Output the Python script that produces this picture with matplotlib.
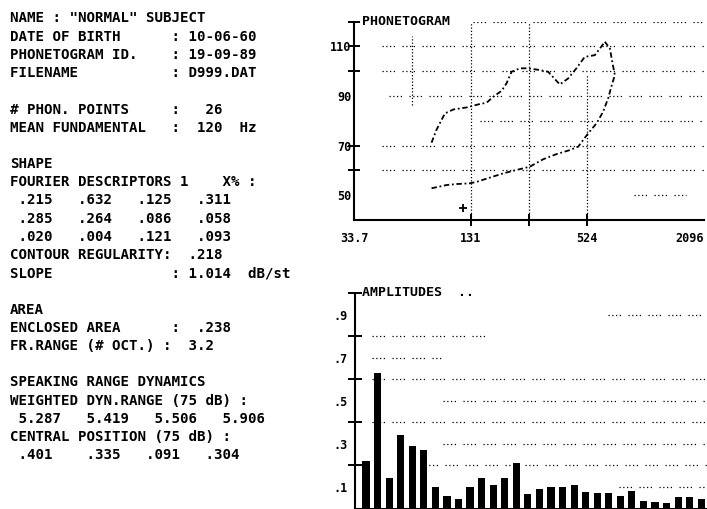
import matplotlib
matplotlib.use('Agg')
from matplotlib import pyplot as plt

W, H = 707, 509

# report text on the left
info_lines = [
    'NAME : "NORMAL" SUBJECT',
    'DATE OF BIRTH      : 10-06-60',
    'PHONETOGRAM ID.    : 19-09-89',
    'FILENAME           : D999.DAT',
    '',
    '# PHON. POINTS     :   26',
    'MEAN FUNDAMENTAL   :  120  Hz',
    '',
    'SHAPE',
    'FOURIER DESCRIPTORS 1    X% :',
    ' .215   .632   .125   .311',
    ' .285   .264   .086   .058',
    ' .020   .004   .121   .093',
    'CONTOUR REGULARITY:  .218',
    'SLOPE              : 1.014  dB/st',
    '',
    'AREA',
    'ENCLOSED AREA      :  .238',
    'FR.RANGE (# OCT.) :  3.2',
    '',
    'SPEAKING RANGE DYNAMICS',
    'WEIGHTED DYN.RANGE (75 dB) :',
    ' 5.287   5.419   5.506   5.906',
    'CENTRAL POSITION (75 dB) :',
    ' .401    .335   .091   .304',
]

# phonetogram contours (Hz, dB)
upper_hz = [82.4, 87.3, 96.6, 106.9, 124.9, 146.5, 158.5, 171.6, 189.6, 201, 213.5,
            235.8, 260.3, 298.6, 330, 379, 418.6, 462, 510, 575, 611, 648]
upper_db = [71.2, 76.3, 83.0, 84.6, 85.4, 86.8, 87.3, 89.7, 92.1, 95.1, 99.8,
            101.2, 101.2, 100.5, 99.8, 94.7, 97.1, 101.2, 105.8, 106.5, 109.2, 111.9]
lower_hz = [82.4, 98.5, 111, 130, 141, 165, 193, 227, 265, 311, 365, 427,
            472, 532, 587, 635, 674, 700, 730, 710, 688, 648]
lower_db = [52.8, 54.1, 54.5, 54.8, 55.4, 57.1, 58.8, 60.2, 61.5, 64.5, 66.6, 68.2,
            69.6, 75.0, 79.0, 83.7, 89.1, 93.8, 98.5, 103.2, 109.2, 111.9]
mean_f0_hz, mean_f0_db = 120, 44.7

f_min, f_max = 32.75, 2096
x_label_pos = [32.75, 131, 524, 2096]
x_labels = ['33.7', '131', '524', '2096']
db_label_pos = [50, 70, 90, 110]
db_tick_pos = [60, 70, 100, 110, 120]

# amplitudes (fourier descriptors)
harmonics = list(range(1, 31))
amplitudes = [0.22, 0.63, 0.14, 0.34, 0.29, 0.27, 0.10, 0.06, 0.045, 0.10,
              0.14, 0.11, 0.14, 0.21, 0.065, 0.09, 0.10, 0.10, 0.11, 0.075,
              0.07, 0.07, 0.057, 0.08, 0.035, 0.03, 0.025, 0.053, 0.053, 0.045]
amp_label_pos = [0.1, 0.3, 0.5, 0.7, 0.9]
amp_labels = ['.1', '.3', '.5', '.7', '.9']
amp_tick_pos = [0.2, 0.4, 0.6, 0.8, 1.0]

mono = 'DejaVu Sans Mono'
dots = (0, (1, 2, 1, 2, 1, 2, 1, 6))

fig = plt.figure(figsize=(W / 100, H / 100), dpi=100)

for i, line in enumerate(info_lines):
    y = 18 + i * 18.2 + 4.5
    fig.text(10 / W, 1 - y / H, line, family=mono, weight='bold',
             fontsize=10.2, va='baseline', ha='left')

# ---- phonetogram
ax1 = fig.add_axes([354 / W, 1 - 220 / H, (703.5 - 354) / W, (220 - 21.7) / H])
ax1.set_xscale('log', base=2)
ax1.set_xlim(f_min, f_max)
ax1.set_ylim(40, 120)

for lvl, a, b in [(120, 0.34, 1), (110, 0.08, 1), (100, 0.08, 1), (90, 0.1, 1),
                  (80, 0.36, 1), (70, 0.08, 1), (60, 0.08, 1), (50, 0.8, 0.95)]:
    ax1.axhline(lvl, a, b, color='black', lw=0.9, ls=dots)
for f, a, b in [(65.5, 0.58, 0.93), (131, 0, 1), (262, 0, 1), (524, 0, 0.73)]:
    ax1.axvline(f, a, b, color='black', lw=0.9, ls=(0, (1, 1.6)))

ax1.plot(upper_hz, upper_db, color='black', lw=1.3, ls=(0, (3, 1.5, 1, 1.5)))
ax1.plot(lower_hz, lower_db, color='black', lw=1.3, ls=(0, (3, 1.5, 1, 1.5)))
ax1.plot([mean_f0_hz], [mean_f0_db], marker='+', color='black', ms=6, mew=1.3)

ax1.set_xticks([131, 262, 524], labels=['', '', ''])
ax1.set_xticks(x_label_pos, labels=x_labels, minor=True)
ax1.set_yticks(db_tick_pos, labels=[''] * len(db_tick_pos))
ax1.set_yticks(db_label_pos, labels=[str(v) for v in db_label_pos], minor=True)
ax1.xaxis.remove_overlapping_locs = False
ax1.yaxis.remove_overlapping_locs = False
ax1.tick_params(which='major', direction='inout', length=8, width=1.4)
ax1.tick_params(which='minor', length=0)
ax1.tick_params(axis='x', which='minor', pad=9)
ax1.tick_params(axis='y', which='minor', pad=2)
for lab in ax1.get_xticklabels(minor=True) + ax1.get_yticklabels(minor=True):
    lab.set_family(mono)
    lab.set_weight('bold')
    lab.set_fontsize(8.5)
# last frequency label sits at the page edge: keep it inside
ax1.get_xticklabels(minor=True)[-1].set_horizontalalignment('right')
ax1.text(0.022, 1.0, 'PHONETOGRAM', transform=ax1.transAxes, family=mono,
         weight='bold', fontsize=9.5, va='center', ha='left',
         bbox=dict(facecolor='white', edgecolor='none', pad=0.5))

# ---- amplitudes
ax2 = fig.add_axes([354.5 / W, 1 - 508.5 / H, (707 - 354.5) / W, (508.5 - 293) / H])
ax2.set_xlim(0, 30.5)
ax2.set_ylim(0, 1.0)

for lvl, a, b in [(0.9, 0.72, 1), (0.8, 0.05, 0.37), (0.7, 0.05, 0.25),
                  (0.6, 0.05, 1), (0.5, 0.25, 1), (0.4, 0.05, 1),
                  (0.3, 0.25, 1), (0.2, 0.2, 1), (0.1, 0.75, 1)]:
    ax2.axhline(lvl, a, b, color='black', lw=0.9, ls=dots, zorder=1)

ax2.bar(harmonics, amplitudes, width=0.62, color='black', zorder=3)

ax2.set_xticks(range(3, 30, 3), labels=[''] * 9)
ax2.set_yticks(amp_tick_pos, labels=[''] * len(amp_tick_pos))
ax2.set_yticks(amp_label_pos, labels=amp_labels, minor=True)
ax2.tick_params(axis='y', which='major', direction='inout', length=10, width=1.4)
ax2.tick_params(axis='x', which='major', direction='inout', length=5, width=1.2)
ax2.tick_params(which='minor', length=0, pad=5)
for lab in ax2.get_yticklabels(minor=True):
    lab.set_family(mono)
    lab.set_weight('bold')
    lab.set_fontsize(8.5)
ax2.text(0.022, 1.0, 'AMPLITUDES  ..', transform=ax2.transAxes, family=mono,
         weight='bold', fontsize=9.5, va='center', ha='left')

for ax in (ax1, ax2):
    ax.spines['top'].set_visible(False)
    ax.spines['right'].set_visible(False)
    ax.spines['left'].set_linewidth(1.5)
    ax.spines['bottom'].set_linewidth(1.5)
    ax.patch.set_alpha(0)

fig.savefig('out.png', dpi=100, facecolor='white')
